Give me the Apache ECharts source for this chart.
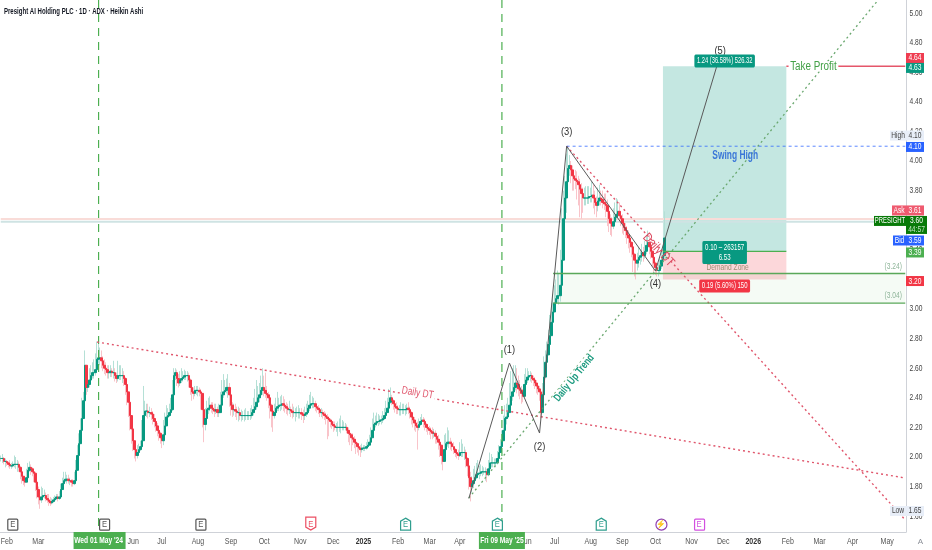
<!DOCTYPE html>
<html><head><meta charset="utf-8">
<style>html,body{margin:0;padding:0;background:#fff}#c{width:932px;height:550px}</style>
<script src="https://cdn.jsdelivr.net/npm/echarts@6/dist/echarts.min.js"></script>
</head><body><div id="c"></div>
<script>
const closes=[
1.99,1.99,1.97,1.97,1.96,1.95,1.94,1.94,1.95,1.95,
1.95,1.95,1.93,1.90,1.87,1.84,1.83,1.86,1.91,1.93,
1.92,1.90,1.89,1.83,1.78,1.73,1.71,1.73,1.74,1.74,
1.72,1.71,1.70,1.69,1.70,1.71,1.72,1.73,1.72,1.73,
1.78,1.82,1.84,1.85,1.85,1.84,1.84,1.83,1.82,1.84,
1.91,2.01,2.09,2.18,2.26,2.38,2.62,2.47,2.49,2.52,
2.55,2.57,2.57,2.59,2.66,2.67,2.67,2.65,2.62,2.60,
2.59,2.57,2.57,2.58,2.57,2.57,2.55,2.53,2.55,2.55,
2.55,2.55,2.53,2.49,2.44,2.37,2.28,2.19,2.11,2.05,
2.01,2.03,2.05,2.07,2.11,2.28,2.31,2.31,2.30,2.30,
2.29,2.26,2.24,2.21,2.18,2.16,2.13,2.11,2.15,2.21,
2.27,2.28,2.30,2.32,2.42,2.55,2.57,2.53,2.50,2.52,
2.53,2.54,2.55,2.55,2.55,2.52,2.47,2.44,2.43,2.45,
2.45,2.45,2.44,2.43,2.32,2.22,2.26,2.32,2.33,2.35,
2.33,2.32,2.31,2.32,2.30,2.30,2.35,2.42,2.44,2.45,
2.47,2.47,2.42,2.35,2.32,2.32,2.31,2.30,2.30,2.28,
2.28,2.28,2.28,2.28,2.28,2.28,2.28,2.30,2.32,2.34,
2.37,2.40,2.42,2.45,2.47,2.45,2.43,2.42,2.40,2.35,
2.31,2.28,2.30,2.33,2.34,2.35,2.35,2.36,2.35,2.34,
2.33,2.32,2.32,2.31,2.30,2.30,2.30,2.30,2.30,2.30,
2.29,2.28,2.29,2.30,2.33,2.35,2.36,2.36,2.36,2.34,
2.33,2.32,2.30,2.30,2.29,2.28,2.27,2.26,2.25,2.24,
2.22,2.21,2.20,2.20,2.20,2.20,2.20,2.20,2.20,2.20,
2.18,2.16,2.15,2.13,2.12,2.10,2.09,2.07,2.06,2.05,
2.06,2.06,2.06,2.07,2.08,2.10,2.13,2.18,2.22,2.23,
2.24,2.24,2.25,2.25,2.26,2.28,2.30,2.33,2.37,2.40,
2.38,2.36,2.34,2.33,2.32,2.32,2.32,2.32,2.32,2.32,
2.33,2.32,2.30,2.27,2.25,2.23,2.21,2.20,2.22,2.24,
2.25,2.24,2.22,2.20,2.19,2.18,2.17,2.16,2.16,2.14,
2.12,2.10,2.08,2.01,1.97,2.05,2.09,2.10,2.10,2.09,
2.07,2.05,2.03,2.02,2.01,2.03,2.03,2.03,2.03,1.99,
1.94,1.86,1.80,1.82,1.84,1.86,1.88,1.89,1.89,1.90,
1.90,1.90,1.90,1.88,1.92,1.96,1.96,1.96,1.96,1.96,
1.99,2.03,2.07,2.11,2.18,2.26,2.27,2.30,2.35,2.41,
2.44,2.47,2.50,2.49,2.46,2.45,2.43,2.41,2.49,2.52,
2.54,2.55,2.55,2.53,2.52,2.50,2.48,2.46,2.44,2.30,
2.42,2.54,2.64,2.69,2.76,2.82,2.91,2.98,3.04,3.07,
3.09,3.09,3.16,3.33,3.61,3.75,3.86,3.95,3.97,3.94,
3.90,3.88,3.87,3.86,3.84,3.81,3.78,3.75,3.75,3.75,
3.75,3.76,3.76,3.77,3.75,3.72,3.70,3.73,3.75,3.74,
3.72,3.71,3.70,3.66,3.61,3.58,3.56,3.59,3.62,3.64,
3.66,3.63,3.61,3.58,3.55,3.53,3.50,3.48,3.45,3.42,
3.37,3.33,3.31,3.33,3.35,3.36,3.38,3.36,3.39,3.43,
3.45,3.42,3.39,3.35,3.31,3.28,3.26,3.26,3.29,3.33,
3.36,3.48];
const opens=[
1.99,1.99,1.99,1.97,1.97,1.96,1.95,1.94,1.94,1.95,
1.95,1.95,1.95,1.93,1.90,1.87,1.84,1.83,1.86,1.91,
1.93,1.92,1.90,1.89,1.83,1.78,1.73,1.71,1.73,1.74,
1.74,1.72,1.71,1.70,1.69,1.70,1.71,1.72,1.73,1.72,
1.73,1.78,1.82,1.84,1.85,1.85,1.84,1.84,1.83,1.82,
1.84,1.91,2.01,2.09,2.18,2.26,2.38,2.62,2.47,2.49,
2.52,2.55,2.57,2.57,2.59,2.66,2.67,2.67,2.65,2.62,
2.60,2.59,2.57,2.57,2.58,2.57,2.57,2.55,2.53,2.55,
2.55,2.55,2.55,2.53,2.49,2.44,2.37,2.28,2.19,2.11,
2.05,2.01,2.03,2.05,2.07,2.11,2.28,2.31,2.31,2.30,
2.30,2.29,2.26,2.24,2.21,2.18,2.16,2.13,2.11,2.15,
2.21,2.27,2.28,2.30,2.32,2.42,2.55,2.57,2.53,2.50,
2.52,2.53,2.54,2.55,2.55,2.55,2.52,2.47,2.44,2.43,
2.45,2.45,2.45,2.44,2.43,2.32,2.22,2.26,2.32,2.33,
2.35,2.33,2.32,2.31,2.32,2.30,2.30,2.35,2.42,2.44,
2.45,2.47,2.47,2.42,2.35,2.32,2.32,2.31,2.30,2.30,
2.28,2.28,2.28,2.28,2.28,2.28,2.28,2.28,2.30,2.32,
2.34,2.37,2.40,2.42,2.45,2.47,2.45,2.43,2.42,2.40,
2.35,2.31,2.28,2.30,2.33,2.34,2.35,2.35,2.36,2.35,
2.34,2.33,2.32,2.32,2.31,2.30,2.30,2.30,2.30,2.30,
2.30,2.29,2.28,2.29,2.30,2.33,2.35,2.36,2.36,2.36,
2.34,2.33,2.32,2.30,2.30,2.29,2.28,2.27,2.26,2.25,
2.24,2.22,2.21,2.20,2.20,2.20,2.20,2.20,2.20,2.20,
2.20,2.18,2.16,2.15,2.13,2.12,2.10,2.09,2.07,2.06,
2.05,2.06,2.06,2.06,2.07,2.08,2.10,2.13,2.18,2.22,
2.23,2.24,2.24,2.25,2.25,2.26,2.28,2.30,2.33,2.37,
2.40,2.38,2.36,2.34,2.33,2.32,2.32,2.32,2.32,2.32,
2.32,2.33,2.32,2.30,2.27,2.25,2.23,2.21,2.20,2.22,
2.24,2.25,2.24,2.22,2.20,2.19,2.18,2.17,2.16,2.16,
2.14,2.12,2.10,2.08,2.01,1.97,2.05,2.09,2.10,2.10,
2.09,2.07,2.05,2.03,2.02,2.01,2.03,2.03,2.03,2.03,
1.99,1.94,1.86,1.80,1.82,1.84,1.86,1.88,1.89,1.89,
1.90,1.90,1.90,1.90,1.88,1.92,1.96,1.96,1.96,1.96,
1.96,1.99,2.03,2.07,2.11,2.18,2.26,2.27,2.30,2.35,
2.41,2.44,2.47,2.50,2.49,2.46,2.45,2.43,2.41,2.49,
2.52,2.54,2.55,2.55,2.53,2.52,2.50,2.48,2.46,2.44,
2.30,2.42,2.54,2.64,2.69,2.76,2.82,2.91,2.98,3.04,
3.07,3.09,3.09,3.16,3.33,3.61,3.75,3.86,3.95,3.97,
3.94,3.90,3.88,3.87,3.86,3.84,3.81,3.78,3.75,3.75,
3.75,3.75,3.76,3.76,3.77,3.75,3.72,3.70,3.73,3.75,
3.74,3.72,3.71,3.70,3.66,3.61,3.58,3.56,3.59,3.62,
3.64,3.66,3.63,3.61,3.58,3.55,3.53,3.50,3.48,3.45,
3.42,3.37,3.33,3.31,3.33,3.35,3.36,3.38,3.36,3.39,
3.43,3.45,3.42,3.39,3.35,3.31,3.28,3.26,3.26,3.29,
3.33,3.36];
const highs=[
2.01,2.02,2.00,1.99,1.98,1.97,1.98,1.96,1.97,2.01,
2.00,1.98,1.97,1.94,1.90,1.87,1.87,1.92,1.96,1.97,
1.95,1.93,1.92,1.90,1.84,1.80,1.76,1.80,1.79,1.78,
1.76,1.75,1.75,1.73,1.72,1.73,1.74,1.75,1.75,1.77,
1.82,1.86,1.90,1.90,1.88,1.88,1.86,1.85,1.85,1.90,
1.98,2.08,2.16,2.26,2.40,2.44,2.72,2.60,2.62,2.60,
2.62,2.64,2.66,2.70,2.78,2.79,2.74,2.72,2.68,2.66,
2.64,2.62,2.62,2.62,2.60,2.65,2.60,2.57,2.65,2.62,
2.62,2.60,2.58,2.54,2.50,2.44,2.36,2.28,2.19,2.10,
2.06,2.08,2.09,2.11,2.25,2.48,2.38,2.36,2.36,2.34,
2.33,2.31,2.29,2.25,2.23,2.20,2.17,2.15,2.25,2.30,
2.35,2.33,2.36,2.40,2.52,2.60,2.60,2.59,2.56,2.58,
2.60,2.58,2.59,2.58,2.58,2.57,2.53,2.49,2.47,2.48,
2.48,2.48,2.47,2.46,2.43,2.30,2.33,2.38,2.40,2.41,
2.37,2.37,2.36,2.36,2.34,2.36,2.44,2.52,2.56,2.52,
2.53,2.56,2.50,2.43,2.37,2.36,2.36,2.34,2.34,2.33,
2.32,2.31,2.32,2.33,2.31,2.31,2.33,2.35,2.40,2.46,
2.52,2.48,2.50,2.55,2.60,2.55,2.57,2.48,2.44,2.42,
2.36,2.33,2.36,2.40,2.44,2.40,2.41,2.42,2.41,2.39,
2.37,2.36,2.38,2.34,2.36,2.34,2.33,2.34,2.35,2.33,
2.33,2.32,2.34,2.36,2.38,2.42,2.44,2.41,2.40,2.38,
2.36,2.35,2.33,2.33,2.32,2.31,2.30,2.29,2.27,2.26,
2.25,2.24,2.24,2.23,2.24,2.26,2.28,2.25,2.24,2.23,
2.22,2.20,2.18,2.16,2.16,2.14,2.12,2.10,2.09,2.08,
2.09,2.08,2.08,2.10,2.12,2.15,2.20,2.26,2.30,2.28,
2.30,2.29,2.28,2.28,2.31,2.33,2.38,2.40,2.46,2.47,
2.42,2.39,2.38,2.37,2.35,2.35,2.37,2.36,2.36,2.35,
2.36,2.37,2.34,2.31,2.28,2.27,2.24,2.24,2.26,2.27,
2.29,2.27,2.26,2.23,2.22,2.21,2.20,2.20,2.19,2.18,
2.16,2.15,2.12,2.08,2.05,2.15,2.16,2.20,2.18,2.13,
2.11,2.10,2.06,2.05,2.05,2.10,2.12,2.09,2.07,2.05,
2.00,1.92,1.90,1.87,1.92,1.94,1.96,1.98,1.94,1.95,
1.94,1.93,1.93,1.92,1.98,2.03,2.02,2.00,1.99,1.99,
2.04,2.08,2.12,2.18,2.28,2.35,2.36,2.40,2.50,2.58,
2.60,2.62,2.62,2.60,2.55,2.52,2.48,2.46,2.56,2.60,
2.60,2.58,2.58,2.57,2.55,2.54,2.52,2.50,2.48,2.44,
2.50,2.68,2.72,2.78,2.86,2.96,3.04,3.10,3.16,3.20,
3.26,3.24,3.40,3.68,3.80,3.90,4.05,4.10,4.04,4.00,
3.97,3.94,3.94,3.93,3.90,3.88,3.85,3.82,3.82,3.83,
3.83,3.83,3.82,3.86,3.84,3.80,3.76,3.82,3.84,3.80,
3.80,3.78,3.78,3.74,3.70,3.64,3.62,3.68,3.72,3.75,
3.74,3.72,3.66,3.64,3.60,3.58,3.56,3.53,3.50,3.46,
3.42,3.38,3.35,3.38,3.42,3.40,3.44,3.42,3.46,3.50,
3.53,3.50,3.44,3.40,3.36,3.32,3.30,3.31,3.35,3.40,
3.42,3.66];
const lows=[
1.97,1.96,1.95,1.93,1.94,1.93,1.92,1.92,1.93,1.93,
1.92,1.90,1.90,1.85,1.82,1.81,1.80,1.83,1.87,1.90,
1.88,1.87,1.83,1.77,1.72,1.68,1.65,1.69,1.71,1.72,
1.70,1.69,1.67,1.67,1.68,1.69,1.70,1.71,1.70,1.71,
1.73,1.78,1.81,1.83,1.82,1.82,1.81,1.80,1.80,1.81,
1.84,1.91,2.01,2.09,2.18,2.26,2.38,2.42,2.44,2.47,
2.50,2.53,2.53,2.55,2.58,2.63,2.62,2.60,2.58,2.56,
2.55,2.53,2.53,2.54,2.54,2.53,2.51,2.50,2.51,2.52,
2.52,2.50,2.48,2.42,2.35,2.27,2.18,2.09,2.04,1.99,
1.97,1.99,2.03,2.04,2.06,2.11,2.26,2.27,2.26,2.27,
2.25,2.22,2.20,2.17,2.14,2.11,2.09,2.06,2.08,2.14,
2.22,2.24,2.27,2.28,2.31,2.40,2.52,2.48,2.47,2.48,
2.50,2.51,2.52,2.52,2.51,2.47,2.42,2.38,2.39,2.41,
2.42,2.41,2.41,2.32,2.20,2.10,2.18,2.26,2.29,2.31,
2.30,2.29,2.27,2.29,2.27,2.27,2.30,2.35,2.40,2.42,
2.43,2.40,2.34,2.28,2.27,2.28,2.27,2.25,2.24,2.25,
2.24,2.25,2.24,2.25,2.25,2.25,2.25,2.26,2.28,2.30,
2.32,2.36,2.37,2.40,2.42,2.41,2.40,2.38,2.33,2.26,
2.20,2.17,2.26,2.29,2.31,2.31,2.31,2.32,2.31,2.30,
2.29,2.28,2.29,2.27,2.26,2.27,2.24,2.27,2.26,2.26,
2.25,2.23,2.25,2.27,2.29,2.31,2.33,2.33,2.33,2.31,
2.30,2.29,2.27,2.27,2.26,2.25,2.22,2.12,2.14,2.20,
2.19,2.17,2.18,2.17,2.14,2.17,2.16,2.18,2.18,2.18,
2.16,2.10,2.08,2.04,2.08,2.06,2.02,2.03,2.01,2.00,
2.03,2.04,2.04,2.05,2.06,2.08,2.10,2.13,2.18,2.20,
2.21,2.21,2.22,2.22,2.23,2.25,2.27,2.30,2.33,2.36,
2.35,2.32,2.30,2.29,2.29,2.28,2.28,2.29,2.29,2.28,
2.29,2.29,2.26,2.22,2.20,2.18,2.17,2.05,2.18,2.21,
2.22,2.20,2.18,2.17,2.15,2.15,2.12,2.12,2.13,2.09,
2.09,2.05,2.00,1.95,1.91,1.98,2.05,2.07,2.06,2.05,
2.04,2.02,2.00,1.99,1.98,2.00,2.00,2.00,1.98,1.93,
1.87,1.78,1.70,1.76,1.79,1.83,1.85,1.86,1.85,1.87,
1.87,1.88,1.84,1.83,1.87,1.92,1.93,1.93,1.94,1.93,
1.95,1.99,2.03,2.06,2.11,2.17,2.22,2.26,2.30,2.35,
2.38,2.42,2.45,2.43,2.41,2.39,2.36,2.37,2.41,2.47,
2.50,2.52,2.51,2.50,2.48,2.46,2.43,2.42,2.38,2.26,
2.30,2.42,2.54,2.64,2.69,2.76,2.82,2.91,2.98,3.00,
3.04,3.03,3.05,3.16,3.33,3.55,3.65,3.80,3.90,3.85,
3.80,3.80,3.81,3.74,3.70,3.62,3.61,3.65,3.70,3.70,
3.71,3.71,3.72,3.72,3.68,3.64,3.62,3.66,3.70,3.70,
3.68,3.67,3.62,3.56,3.52,3.50,3.49,3.54,3.56,3.60,
3.62,3.59,3.56,3.51,3.50,3.48,3.44,3.41,3.38,3.35,
3.25,3.22,3.20,3.26,3.28,3.30,3.32,3.32,3.34,3.37,
3.40,3.37,3.34,3.29,3.25,3.23,3.22,3.22,3.24,3.27,
3.30,3.33];

const priceTicks=[5.00,4.80,4.60,4.40,4.20,4.00,3.80,3.60,3.40,3.20,3.00,2.80,2.60,2.40,2.20,2.00,1.80,1.60];
const monthBars=[4,25,88,107,131,153,175,199,221,241,264,285,305,349,368,392,413,435,459,480,500,523,544,566,589];
const monthNames=['Feb','Mar','Jun','Jul','Aug','Sep','Oct','Nov','Dec','2025','Feb','Mar','Apr','Jun','Jul','Aug','Sep','Oct','Nov','Dec','2026','Feb','Mar','Apr','May'];
const cursorBars=[65,333];
const cursorDates=["Wed 01 May '24","Fri 09 May '25"];

const waveBars=[311,338,358,376,435,478];
const wavePrices=[1.72,2.635,2.162,4.10,3.257,4.716];
const waveNames=['(1)','(2)','(3)','(4)','(5)'];
const waveNameBars=[338,358,376,435,478];
const waveNamePrices=[2.723,2.068,4.196,3.169,4.743];

const longDTBars=[64,601],longDTPrices=[2.777,1.858];
const shortDTBars=[376,601],shortDTPrices=[4.10,1.575];
const upTrendBars=[311,583],upTrendPrices=[1.723,5.088];
const swingBars=[376,601],swingPrices=[4.10,4.10];
const tpBars=[522,601],tpPrices=[4.64,4.64];
const entryBars=[440,522],entryPrice=3.39,targetPrice=4.64,stopPrice=3.20;
const zoneBars=[367,601],zoneTop=3.24,zoneBottom=3.04;
const bidAskPrices=[3.608,3.59],fullBars=[0,601];

const noteTexts=['Daily DT','Daily DT','Daily Up Trend','Swing High','Take Profit','Demand Zone','(3.24)','(3.04)'];
const noteBars=[277,437,381,488,540,483,593,593];
const notePrices=[2.433,3.399,2.534,4.034,4.64,3.277,3.284,3.088];

const riskTexts=['1.24 (36.58%) 526.32','0.10 \u2013 263157\n6.53','0.19 (5.60%) 150'];
const riskBars=[481,481,481];
const riskPrices=[4.676,3.382,3.156];

const tagTexts=['4.64','4.63','4.10','4.10','3.61','3.59','3.39','3.20','1.65'];
const tagPrices=[4.696,4.629,4.172,4.095,3.666,3.463,3.382,3.189,1.635];
const sideTexts=['High','Ask','PRESIGHT','Bid','Low'];
const sidePrices=[4.172,3.666,3.595,3.463,1.635];
const lastTexts=['3.60','44:57'];
const lastPrices=[3.595,3.538];

const eventBars=[8,69,133,206,269,330,399,439,464];
const eventKinds=['box','box','box','down','up','up','up','bolt','note'];
const eventPrice=1.543;

const AXIS_TOP=5.088,AXIS_BOTTOM=1.4932,BAR_COUNT=602;

/* ---------- styles, kept apart from the values ---------- */
const FONT='"Liberation Sans",sans-serif';
const SX=0.74;
const UP='#089981',DOWN='#f23645';
const noteStyle=[
 {fill:'#e0566c',font:'11px '+FONT,rot:-0.166,bg:'#fff',sx:0.76},
 {fill:'#dc4a60',font:'13px '+FONT,rot:-0.83,sx:0.8},
 {fill:'#1a9a7e',font:'bold 11px '+FONT,rot:0.887,bg:'#fff',sx:0.74},
 {fill:'#3a76d8',font:'bold 12px '+FONT,sx:0.7},
 {fill:'#43a047',font:'12px '+FONT,bg:'#fff',sx:0.82},
 {fill:'#a08f75',font:'9px '+FONT,sx:0.74},
 {fill:'#8fb59a',font:'9px '+FONT,sx:0.74},
 {fill:'#8fb59a',font:'9px '+FONT,sx:0.74}];
const riskFill=[UP,UP,DOWN];
const riskScale=[0.64,0.68,0.66];
const tagFill=['#ef3c50',UP,'#e8eef8','#2962ff','#ef5a6f','#2962ff','#4caf50','#f23645','#e8eef8'];
const tagInk=['#fff','#fff','#444','#fff','#fff','#fff','#fff','#fff','#444'];
const sideFill=['#e8eef8','#ef5a6f','#087a08','#2962ff','#e8eef8'];
const sideInk=['#444','#fff','#fff','#fff','#444'];
const sideWidth=[16,14,32,13,16];
const sideScale=[0.74,0.74,0.66,0.74,0.74];

function pts(b,p){return b.map((x,i)=>[x,p[i]]);}
function lineS(b,p,color,width,type,z,opacity){
 return {type:'line',data:pts(b,p),symbol:'none',silent:true,animation:false,z:z||5,
  lineStyle:{color:color,width:width,type:type,opacity:opacity==null?1:opacity}};
}
function drawS(rows,z,draw,clip){
 return {type:'custom',coordinateSystem:'cartesian2d',data:rows,silent:true,animation:false,z:z,clip:!!clip,
  renderItem:(params,api)=>draw(params.dataIndex,api,params.coordSys)};
}
function rectBetween(api,b0,p0,b1,p1,fill){
 const a=api.coord([b0,p0]),c=api.coord([b1,p1]);
 return {type:'rect',shape:{x:a[0],y:a[1],width:c[0]-a[0],height:c[1]-a[1]},style:{fill:fill}};
}
function textEl(x,y,text,fill,font,rot,bg,pad,radius,sx){
 return {type:'text',x:x,y:y,rotation:rot||0,scaleX:sx||SX,style:{text:text,fill:fill,font:font,align:'center',verticalAlign:'middle',
  backgroundColor:bg||null,padding:pad||0,borderRadius:radius||0,lineHeight:10}};
}
const zoneKinds=[
 {b:zoneBars,p:[zoneTop,zoneBottom],fill:'rgba(76,175,80,0.055)'},
 {b:entryBars,p:[targetPrice,entryPrice],fill:'rgba(8,153,129,0.24)'},
 {b:entryBars,p:[entryPrice,stopPrice],fill:'rgba(242,54,69,0.2)'}];

const cats=Array.from({length:BAR_COUNT},(_,i)=>String(i));
const wickData=closes.map((c,i)=>[opens[i],c,lows[i],highs[i]]);
const bodyData=closes.map((c,i)=>[opens[i],c,Math.min(opens[i],c),Math.max(opens[i],c)]);

const series=[
 lineS(fullBars,[bidAskPrices[0],bidAskPrices[0]],'#f9dcd8',2,'solid',1),
 lineS(fullBars,[bidAskPrices[1],bidAskPrices[1]],'#cfe3e3',2,'solid',1),
 drawS(zoneKinds.map(k=>[k.b[0],k.p[0]]),1,(i,api)=>rectBetween(api,zoneKinds[i].b[0],zoneKinds[i].p[0],zoneKinds[i].b[1],zoneKinds[i].p[1],zoneKinds[i].fill)),
 {type:'candlestick',data:wickData,barWidth:1,silent:true,animation:false,z:3,
  itemStyle:{color:'#b5e0d6',color0:'#f9c4ca',borderColor:'#b5e0d6',borderColor0:'#f9c4ca',borderWidth:1}},
 {type:'candlestick',data:bodyData,barWidth:2,silent:true,animation:false,z:4,
  itemStyle:{color:UP,color0:DOWN,borderColor:UP,borderColor0:DOWN,borderWidth:1}},
 lineS([cursorBars[0],cursorBars[0]],[AXIS_TOP,AXIS_BOTTOM],'#4caf50',1.2,[8,6],5),
 lineS([cursorBars[1],cursorBars[1]],[AXIS_TOP,AXIS_BOTTOM],'#4caf50',1.2,[8,6],5),
 lineS(longDTBars,longDTPrices,'#e0566c',1.4,[2,3],5),
 lineS(shortDTBars,shortDTPrices,'#e0566c',1.4,[2,3],5),
 lineS(upTrendBars,upTrendPrices,'#6aa86f',1.3,[2,3],5),
 lineS(waveBars,wavePrices,'#5a5a5a',1,'solid',6),
 lineS(swingBars,swingPrices,'#2962ff',1,[3,3],5,0.75),
 lineS(tpBars,tpPrices,'#e5566a',1.6,'solid',5),
 lineS(zoneBars,[zoneTop,zoneTop],'#5aa85a',1.4,'solid',5),
 lineS(zoneBars,[zoneBottom,zoneBottom],'#5aa85a',1.4,'solid',5),
 lineS(entryBars,[entryPrice,entryPrice],'#4caf50',1.2,'solid',5),
 drawS(priceTicks.map(p=>[601,p]),2,(i,api,cs)=>{
  const a=api.coord([601,priceTicks[i]]);
  return textEl(cs.x+cs.width+10,a[1],priceTicks[i].toFixed(2),'#444','9px '+FONT);
 }),
 drawS(monthBars.map(b=>[b,AXIS_BOTTOM]),2,(i,api,cs)=>{
  const a=api.coord([monthBars[i],AXIS_BOTTOM]),n=monthNames[i],yr=/^\d/.test(n);
  return textEl(a[0],cs.y+cs.height+9,n,yr?'#333':'#555',(yr?'bold ':'')+'9.5px '+FONT);
 }),
 drawS(waveNames.map((_,i)=>[waveNameBars[i],waveNamePrices[i]]),8,(i,api)=>{
  const a=api.coord([waveNameBars[i],waveNamePrices[i]]);
  return textEl(a[0],a[1],waveNames[i],'#333','11px '+FONT,0,null,0,0,0.85);
 }),
 drawS(noteTexts.map((_,i)=>[noteBars[i],notePrices[i]]),8,(i,api)=>{
  const a=api.coord([noteBars[i],notePrices[i]]),s=noteStyle[i];
  return textEl(a[0],a[1],noteTexts[i],s.fill,s.font,s.rot,s.bg,s.bg?[0,2]:0,0,s.sx);
 }),
 drawS(riskTexts.map((_,i)=>[riskBars[i],riskPrices[i]]),9,(i,api)=>{
  const a=api.coord([riskBars[i],riskPrices[i]]);
  return textEl(a[0],a[1],riskTexts[i],'#fff','9px '+FONT,0,riskFill[i],[1.5,4],2,riskScale[i]);
 }),
 drawS(eventBars.map(b=>[b,eventPrice]),9,(i,api)=>{
  const a=api.coord([eventBars[i],eventPrice]),k=eventKinds[i],x=a[0],y=a[1];
  const colors={box:'#555',down:'#ec4f63',up:'#2f9e8e',bolt:'#8e3fb3',note:'#d24fe0'};
  const c=colors[k];let shape;
  if(k==='box')shape={type:'rect',shape:{x:x-5,y:y-5.5,width:10,height:11,r:1}};
  else if(k==='down')shape={type:'polygon',shape:{points:[[x-5,y-7.5],[x+5,y-7.5],[x+5,y+2.5],[x,y+5.5],[x-5,y+2.5]]}};
  else if(k==='up')shape={type:'polygon',shape:{points:[[x,y-6.5],[x+5,y-3.5],[x+5,y+5.5],[x-5,y+5.5],[x-5,y-3.5]]}};
  else if(k==='bolt')shape={type:'circle',shape:{cx:x,cy:y,r:5.5}};
  else shape={type:'rect',shape:{x:x-4.5,y:y-5.5,width:10,height:11,r:1}};
  shape.style={fill:'#fff',stroke:c,lineWidth:1.2};
  return {type:'group',children:[shape,textEl(x,y,k==='bolt'?'\u26A1':'E',c,'8.5px '+FONT,0,null,0,0,0.9)]};
 }),
 drawS(cursorDates.map((_,i)=>[cursorBars[i],AXIS_BOTTOM]),12,(i,api,cs)=>{
  const a=api.coord([cursorBars[i],AXIS_BOTTOM]);
  return {type:'group',children:[
   {type:'rect',shape:{x:a[0]-(i?23:25),y:cs.y+cs.height,width:i?46:52,height:17},style:{fill:'#4caf50'}},
   textEl(a[0],cs.y+cs.height+8.5,cursorDates[i],'#fff','bold 9px '+FONT)]};
 }),
 drawS(tagTexts.map((_,i)=>[601,tagPrices[i]]),14,(i,api,cs)=>{
  const a=api.coord([601,tagPrices[i]]),x=cs.x+cs.width;
  return {type:'group',children:[
   {type:'rect',shape:{x:x,y:a[1]-5,width:18,height:10},style:{fill:tagFill[i]}},
   textEl(x+9,a[1],tagTexts[i],tagInk[i],'9px '+FONT)]};
 }),
 drawS(sideTexts.map((_,i)=>[601,sidePrices[i]]),14,(i,api,cs)=>{
  const a=api.coord([601,sidePrices[i]]),x=cs.x+cs.width,w=sideWidth[i];
  return {type:'group',children:[
   {type:'rect',shape:{x:x-w,y:a[1]-5,width:w,height:10},style:{fill:sideFill[i]}},
   textEl(x-w/2,a[1],sideTexts[i],sideInk[i],'9px '+FONT,0,null,0,0,sideScale[i])]};
 }),
 drawS(lastTexts.map((_,i)=>[601,lastPrices[i]]),15,(i,api,cs)=>{
  const a=api.coord([601,lastPrices[i]]),x=cs.x+cs.width;
  const top=api.coord([601,lastPrices[0]])[1]-5;
  const kids=[textEl(x+10.5,a[1],lastTexts[i],i?'#bfe3bf':'#fff','9px '+FONT)];
  if(i===0)kids.unshift({type:'rect',shape:{x:x,y:top,width:21,height:18},style:{fill:'#087a08'}});
  return {type:'group',children:kids};
 })
];

const chart=echarts.init(document.getElementById('c'),null,{renderer:'canvas'});
chart.setOption({
 animation:false,backgroundColor:'#fff',
 grid:{left:0,top:0,right:26,bottom:18,containLabel:false},
 tooltip:{show:false},legend:{show:false},
 xAxis:{type:'category',data:cats,boundaryGap:true,
  axisLine:{lineStyle:{color:'#cfd2d8'}},axisTick:{show:false},splitLine:{show:false},axisLabel:{show:false}},
 yAxis:{type:'value',position:'right',min:AXIS_BOTTOM,max:AXIS_TOP,scale:true,
  axisLine:{show:true,onZero:false,lineStyle:{color:'#cfd2d8'}},axisTick:{show:false},splitLine:{show:false},axisLabel:{show:false}},
 graphic:[
  {type:'text',left:4,top:6,scaleX:0.635,z:20,style:{text:'Presight AI Holding PLC \u00B7 1D \u00B7 ADX \u00B7 Heikin Ashi',fill:'#131722',font:'bold 9.5px '+FONT}},
  {type:'text',right:9,bottom:4,z:20,style:{text:'A',fill:'#8a8e96',font:'8px '+FONT}}],
 series:series
});
</script></body></html>
